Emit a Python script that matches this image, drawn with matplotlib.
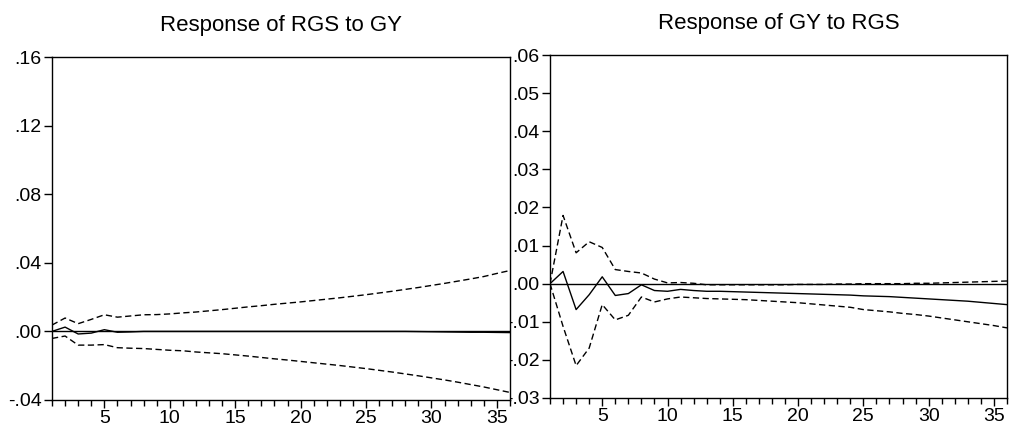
import numpy as np
import matplotlib as mpl
import matplotlib.pyplot as plt
from matplotlib.ticker import MultipleLocator, FuncFormatter

plt.rcParams['font.family'] = ['Liberation Sans', 'DejaVu Sans']

periods = list(range(1, 37))

# Response of RGS to GY
rgs_resp = [0.0, 0.0025, -0.0015, -0.001, 0.001, -0.0005, -0.0003, 0.0, 0.0, 0.0,
            0.0, 0.0, 0.0, 0.0, 0.0, 0.0, 0.0, 0.0, 0.0, 0.0,
            0.0, 0.0, 0.0, 0.0, 0.0, 0.0, 0.0, 0.0, -0.0001, -0.0002,
            -0.0003, -0.0004, -0.0005, -0.0005, -0.0006, -0.0007]
rgs_upper = [0.0037, 0.0078, 0.0045, 0.007, 0.0097, 0.0083, 0.009, 0.0097, 0.0098, 0.0102,
             0.0108, 0.0113, 0.012, 0.0127, 0.0135, 0.0143, 0.015, 0.0158, 0.0165, 0.0172,
             0.018, 0.0188, 0.0196, 0.0205, 0.0214, 0.0224, 0.0234, 0.0245, 0.0256, 0.0268,
             0.028, 0.0293, 0.0306, 0.032, 0.0338, 0.0355]
rgs_lower = [-0.0041, -0.0027, -0.008, -0.008, -0.0077, -0.0095, -0.0098, -0.01, -0.0105, -0.011,
             -0.0113, -0.012, -0.0125, -0.013, -0.0137, -0.0144, -0.0152, -0.016, -0.0167, -0.0175,
             -0.0183, -0.0191, -0.0199, -0.0208, -0.0217, -0.0227, -0.0237, -0.0248, -0.0259, -0.0271,
             -0.0283, -0.0296, -0.031, -0.0324, -0.034, -0.0356]

# Response of GY to RGS
gy_resp = [0.0, 0.0032, -0.0068, -0.0029, 0.0018, -0.0031, -0.0026, -0.0003, -0.0018, -0.002,
           -0.0015, -0.0018, -0.002, -0.002, -0.0021, -0.0022, -0.0023, -0.0024, -0.0025, -0.0026,
           -0.0027, -0.0028, -0.0029, -0.003, -0.0032, -0.0033, -0.0034, -0.0036, -0.0038, -0.004,
           -0.0042, -0.0044, -0.0046, -0.0049, -0.0052, -0.0055]
gy_upper = [0.0, 0.0179, 0.0081, 0.011, 0.0095, 0.0037, 0.0032, 0.0028, 0.0012, 0.0002,
            0.0003, 0.0001, -0.0003, -0.0003, -0.0003, -0.0003, -0.0003, -0.0003, -0.0003, -0.0002,
            -0.0002, -0.0002, -0.0001, -0.0001, 0.0, 0.0, 0.0, 0.0, 0.0001, 0.0001,
            0.0002, 0.0003, 0.0004, 0.0005, 0.0006, 0.0007]
gy_lower = [0.0, -0.0112, -0.0215, -0.0169, -0.0055, -0.0095, -0.0083, -0.0035, -0.0048, -0.004,
            -0.0035, -0.0037, -0.0039, -0.004, -0.0041, -0.0042, -0.0044, -0.0046, -0.0048, -0.005,
            -0.0053, -0.0056, -0.0059, -0.0062, -0.0068, -0.0071, -0.0074, -0.0078, -0.0081, -0.0085,
            -0.009, -0.0095, -0.01, -0.0105, -0.011, -0.0116]


def fmt(v, pos):
    s = f"{v:.2f}"
    return s.replace("0.", ".", 1)


def draw_panel(ax, resp, upper, lower, title, ylim, ystep):
    ax.axhline(0, color='black', lw=1.0)
    ax.plot(periods, resp, color='black', lw=1.0)
    ax.plot(periods, upper, color='black', lw=1.0, dashes=(4.5, 2.5))
    ax.plot(periods, lower, color='black', lw=1.0, dashes=(4.5, 2.5))
    ax.set_xlim(1, 36)
    ax.set_ylim(*ylim)
    ax.yaxis.set_major_locator(MultipleLocator(ystep))
    ax.yaxis.set_major_formatter(FuncFormatter(fmt))
    ax.xaxis.set_major_locator(MultipleLocator(5))
    ax.xaxis.set_minor_locator(MultipleLocator(1))
    ax.tick_params(axis='both', which='both', direction='out', labelsize=14,
                   width=1.0, top=False, right=False)
    ax.tick_params(axis='y', length=6, pad=1.5)
    ax.tick_params(axis='x', which='major', length=6, pad=1.5)
    ax.tick_params(axis='x', which='minor', length=4)
    for sp in ax.spines.values():
        sp.set_linewidth(1.0)
    ax.set_title(title, fontsize=16, pad=19)


fig = plt.figure(figsize=(10.1, 4.3), dpi=100)
ax1 = fig.add_axes([52 / 1010, 1 - 400 / 430, (510 - 52) / 1010, (400 - 57) / 430])
ax2 = fig.add_axes([550 / 1010, 1 - 398 / 430, (1007 - 550) / 1010, (398 - 55) / 430])
ax1.set_zorder(2)

draw_panel(ax1, rgs_resp, rgs_upper, rgs_lower, 'Response of RGS to GY', (-0.04, 0.16), 0.04)
draw_panel(ax2, gy_resp, gy_upper, gy_lower, 'Response of GY to RGS', (-0.03, 0.06), 0.01)

fig.savefig('out.png', dpi=100)
